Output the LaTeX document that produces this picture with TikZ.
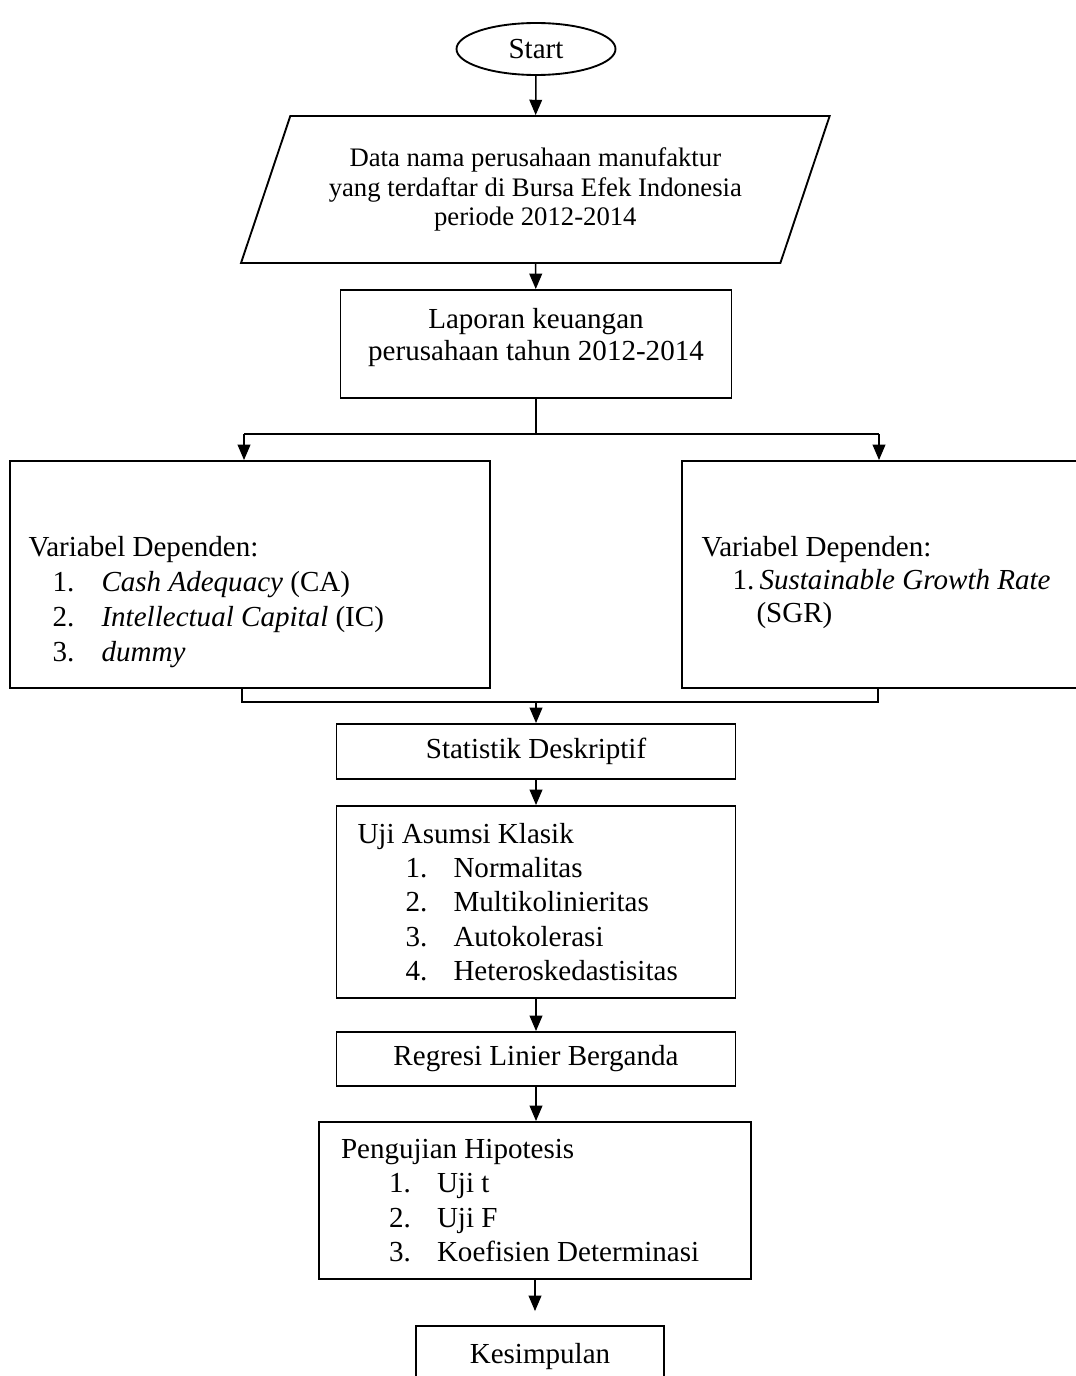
\documentclass[tikz,border=0pt]{standalone}
\usepackage{fontspec}
\setmainfont{Liberation Serif}
\usepackage{tikz}
\usetikzlibrary{shapes.geometric, arrows.meta, positioning, calc}
\newcommand{\nomor}[1]{\hspace*{0.72cm}\makebox[0.72cm][l]{#1}}

\begin{document}
\begin{tikzpicture}[
    font=\fontsize{12.4}{14.6}\selectfont,
    kotak/.style={draw, line width=0.8pt, minimum width=5.985cm, align=center},
    daftar/.style={kotak, align=flush left, text width=5.355cm, inner xsep=0.315cm},
    isian/.style={anchor=north west, inner sep=0pt, align=flush left},
    mulai/.style={draw, ellipse, line width=0.8pt, minimum width=2.385cm, minimum height=0.78cm},
    masukan/.style={draw, trapezium, trapezium left angle=66.5, trapezium right angle=113.5,
                    trapezium stretches=true, line width=0.8pt, minimum width=8.835cm,
                    minimum height=2.205cm, align=center, font=\fontsize{11.4}{12.6}\selectfont},
    garis/.style={line width=0.65pt},
    panah/.style={garis, -{Triangle[length=2.3mm, width=1.9mm]}}
]
    \useasboundingbox (0,0) rectangle (16.14,-20.64);

    \node[mulai] (start) at (8.04,-0.735) {Start};
    \node[masukan] (data) at (8.03,-2.843) {Data nama perusahaan manufaktur\\yang terdaftar di Bursa Efek Indonesia\\periode 2012-2014};
    \node[kotak, minimum width=5.865cm, minimum height=1.62cm, font=\fontsize{12.4}{13.7}\selectfont] (laporan) at (8.04,-5.16) {Laporan keuangan\\perusahaan tahun 2012-2014\\[-0.2cm]};

    % dua kelompok variabel
    \node[kotak, minimum width=7.2cm, minimum height=3.405cm] (vbebas) at (3.75,-8.6175) {};
    \node[isian, font=\fontsize{12.4}{14.9}\selectfont] (tvbebas) at ($(vbebas.north west)+(0.285,-1.14)$)
        {Variabel Dependen:\\
         \hspace*{0.36cm}\makebox[0.735cm][l]{1.}\textit{Cash Adequacy} (CA)\\
         \hspace*{0.36cm}\makebox[0.735cm][l]{2.}\textit{Intellectual Capital} (IC)\\
         \hspace*{0.36cm}\makebox[0.735cm][l]{3.}\textit{dummy}};
    \node[kotak, minimum width=6.06cm, minimum height=3.405cm] (vterikat) at (13.26,-8.6175) {};
    \node[isian, font=\fontsize{12.4}{14.1}\selectfont] (tvterikat) at ($(vterikat.north west)+(0.3,-1.14)$)
        {Variabel Dependen:\\
         \hspace*{0.465cm}\makebox[0.405cm][l]{1.}\textit{Sustainable Growth Rate}\\
         \hspace*{0.825cm}(SGR)};

    \node[kotak, minimum height=0.825cm] (statistik) at (8.04,-11.2725) {Statistik Deskriptif};
    \node[daftar, minimum height=2.88cm] (uji) at (8.04,-13.53)
        {Uji Asumsi Klasik\\
         \nomor{1.}Normalitas\\
         \nomor{2.}Multikolinieritas\\
         \nomor{3.}Autokolerasi\\
         \nomor{4.}Heteroskedastisitas};
    \node[kotak, minimum height=0.81cm] (regresi) at (8.04,-15.885) {Regresi Linier Berganda};
    \node[daftar, minimum height=2.355cm, text width=5.82cm, inner xsep=0.33cm] (pengujian) at (8.025,-18.0075)
        {Pengujian Hipotesis\\
         \nomor{1.}Uji t\\
         \nomor{2.}Uji F\\
         \nomor{3.}Koefisien Determinasi};
    \node[kotak, minimum width=3.72cm, minimum height=0.9cm] (kesimpulan) at (8.1,-20.34) {Kesimpulan};

    % titik cabang dan titik gabung
    \coordinate (cabang) at (8.04,-6.51);
    \coordinate (cabkiri) at (3.66,-6.51);
    \coordinate (cabkanan) at (13.185,-6.51);
    \coordinate (gabung) at (8.04,-10.53);
    \coordinate (gabkiri) at (3.63,-10.53);
    \coordinate (gabkanan) at (13.17,-10.53);

    \draw[panah] (start) -- (data);
    \draw[panah] (data) -- (laporan);
    \draw[garis] (laporan) -- (cabang);
    \draw[garis] (cabkiri) -- (cabkanan);
    \draw[panah] (cabkiri) -- (cabkiri |- vbebas.north);
    \draw[panah] (cabkanan) -- (cabkanan |- vterikat.north);
    \draw[garis] (gabkiri |- vbebas.south) -- (gabkiri) -- (gabkanan) -- (gabkanan |- vterikat.south);
    \draw[panah] (gabung) -- (statistik);
    \draw[panah] (statistik) -- (uji);
    \draw[panah] (uji) -- (regresi);
    \draw[panah] (regresi) -- (regresi |- pengujian.north);
    \draw[panah, shorten >=0.21cm] (pengujian) -- (pengujian |- kesimpulan.north);
\end{tikzpicture}
\end{document}
